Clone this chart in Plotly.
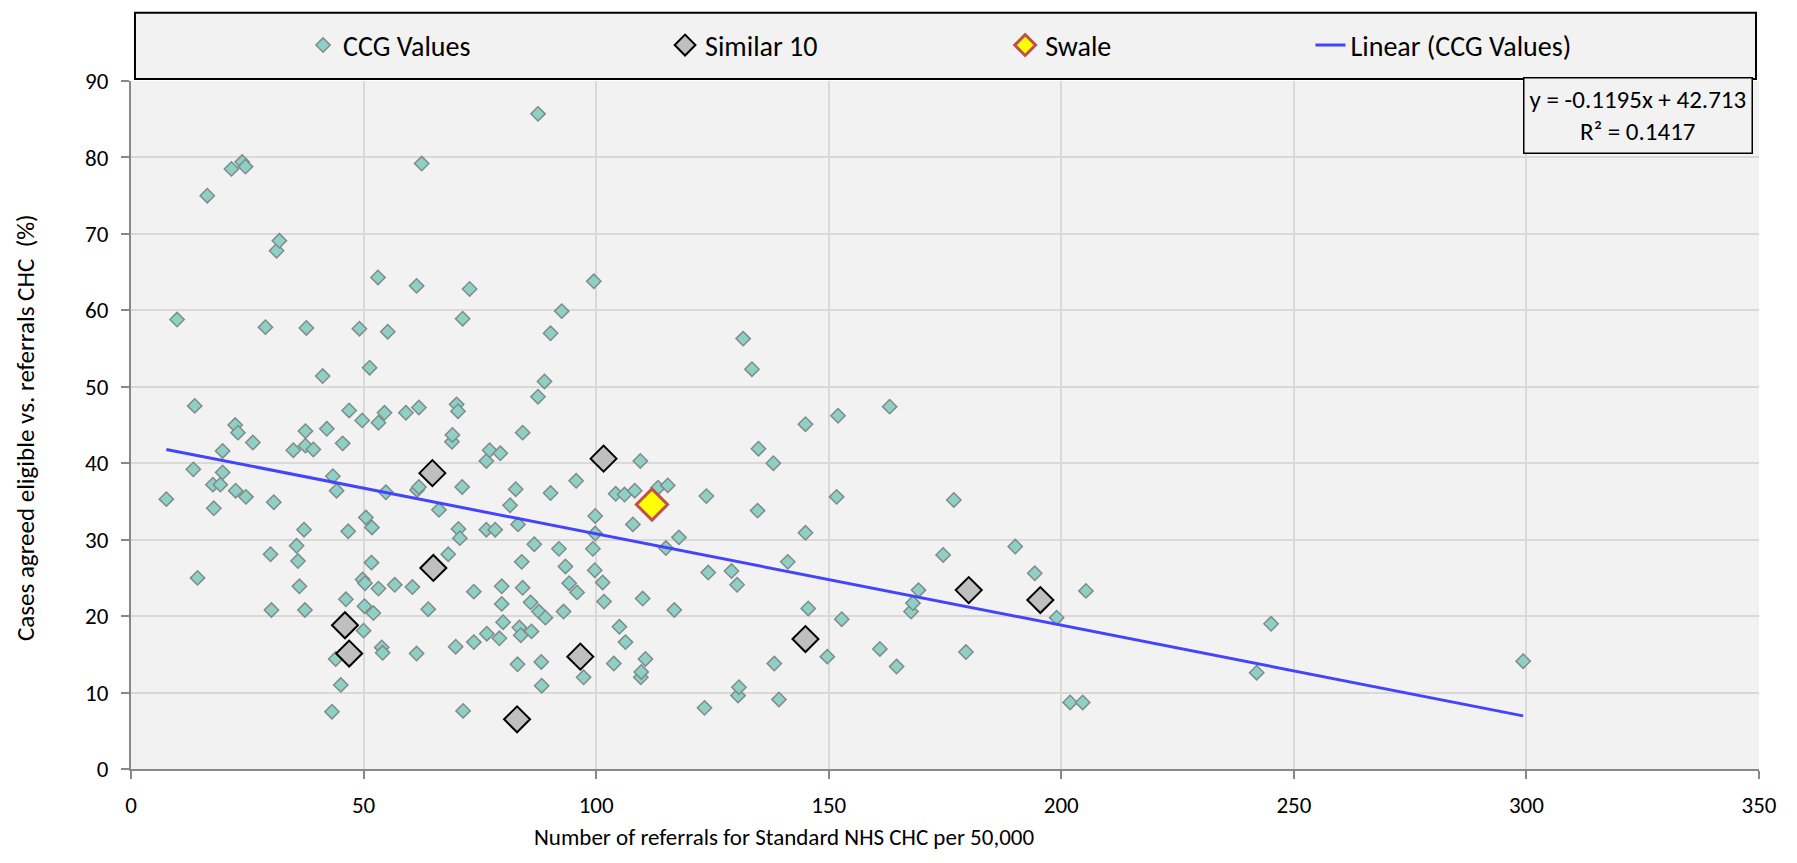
import plotly.graph_objects as go

# CCG values
ccg_x = [7.6, 9.9, 13.4, 13.7, 14.3, 16.4, 17.6, 17.8, 19.2, 19.7, 19.7, 21.6, 22.4, 22.5, 23.0,
         23.9, 24.6, 24.7, 26.2, 28.9, 30.0, 30.2, 30.7, 31.3, 31.9, 34.9, 35.6, 35.9, 36.2, 37.2,
         37.4, 37.5, 37.5, 37.7, 39.2, 41.2, 42.1, 43.2, 43.4, 44.0, 44.2, 45.1, 45.5, 46.2, 46.7,
         46.9, 49.1, 49.7, 49.8, 50.0, 50.2, 50.3, 50.5, 51.3, 51.7, 51.8, 52.1, 53.1, 53.2, 53.2,
         53.9, 54.1, 54.5, 54.8, 55.2, 56.7, 59.1, 60.5, 61.4, 61.4, 61.5, 61.9, 61.9, 62.5, 63.9,
         66.2, 68.2, 69.0, 69.1, 69.8, 70.0, 70.3, 70.4, 70.7, 71.2, 71.3, 71.4, 72.8, 73.7, 73.7,
         76.4, 76.4, 76.5, 77.1, 78.3, 79.2, 79.4, 79.7, 79.7, 80.0, 81.5, 82.7, 83.1, 83.2, 83.5,
         83.8, 84.0, 84.2, 84.2, 85.9, 86.1, 86.7, 87.5, 87.5, 87.7, 88.2, 88.3, 88.9, 89.1, 90.2,
         90.2, 92.0, 92.6, 93.0, 93.4, 94.2, 95.7, 95.9, 97.3, 99.3, 99.5, 99.7, 99.8, 99.8, 101.4,
         101.7, 103.8, 104.2, 105.0, 106.1, 106.3, 107.9, 108.3, 109.5, 109.6, 109.7, 110.0, 110.6,
         113.3, 115.0, 115.4, 116.8, 117.8, 123.3, 123.7, 124.1, 129.1, 130.3, 130.5, 130.7, 131.6,
         133.5, 134.7, 134.9, 138.1, 138.3, 139.3, 141.2, 145.0, 145.0, 145.6, 149.7, 151.7, 152.0,
         152.8, 161.0, 163.1, 164.6, 167.7, 168.1, 169.3, 174.6, 176.9, 179.5, 190.1, 194.3, 199.0,
         201.9, 204.6, 205.3, 242.0, 245.1, 299.3]
ccg_y = [35.3, 58.8, 39.2, 47.5, 25.0, 75.0, 37.2, 34.1, 37.2, 41.6, 38.8, 78.5, 45.0, 36.4, 44.0,
         79.4, 78.8, 35.6, 42.7, 57.8, 28.1, 20.8, 34.9, 67.8, 69.1, 41.7, 29.2, 27.2, 23.9, 31.3,
         20.8, 44.2, 42.3, 57.7, 41.8, 51.4, 44.5, 7.5, 38.3, 14.4, 36.4, 11.0, 42.6, 22.2, 31.1,
         46.9, 57.6, 45.6, 24.8, 18.1, 21.3, 24.3, 32.9, 52.5, 27.0, 31.6, 20.4, 64.3, 45.3, 23.6,
         15.9, 15.2, 46.6, 36.2, 57.2, 24.1, 46.6, 23.8, 63.2, 15.1, 36.5, 36.9, 47.3, 79.2, 20.9,
         33.9, 28.1, 42.8, 43.7, 16.0, 47.7, 46.8, 31.4, 30.2, 36.9, 58.9, 7.6, 62.8, 23.2, 16.6,
         40.3, 31.3, 17.7, 41.7, 31.3, 17.1, 41.3, 23.9, 21.6, 19.2, 34.5, 36.6, 13.7, 32.0, 18.5,
         17.5, 27.1, 23.7, 44.0, 21.8, 18.0, 29.4, 48.7, 85.7, 20.6, 14.0, 10.9, 50.7, 19.8, 57.0,
         36.1, 28.8, 59.9, 20.6, 26.5, 24.3, 37.7, 23.1, 12.0, 28.8, 63.8, 26.0, 33.1, 30.8, 24.4,
         21.9, 13.8, 36.0, 18.6, 35.9, 16.6, 32.0, 36.4, 40.3, 12.0, 12.7, 22.3, 14.4,
         36.8, 28.9, 37.1, 20.8, 30.3, 8.0, 35.7, 25.7, 25.9, 24.1, 9.6, 10.7, 56.3,
         52.3, 33.8, 41.9, 40.0, 13.8, 9.1, 27.1, 45.1, 30.9, 21.0, 14.7, 35.6, 46.2,
         19.6, 15.7, 47.4, 13.4, 20.6, 21.7, 23.4, 28.0, 35.2, 15.3, 29.1, 25.6, 19.8,
         8.7, 8.7, 23.3, 12.6, 19.0, 14.1]

similar_x = [46.0, 46.9, 64.8, 65.0, 83.0, 96.6, 101.6, 145.0, 180.1, 195.5]
similar_y = [18.8, 15.1, 38.7, 26.3, 6.5, 14.7, 40.6, 17.0, 23.4, 22.1]

swale_x = [112.0]
swale_y = [34.6]

# trendline as printed on the chart
trend_slope = -0.1195
trend_intercept = 42.713
trend_r2 = 0.1417

FONT = "Carlito, Lato, sans-serif"

# the page body has an 8px margin, so figure pixels = screen pixels - 8
OFF = 8
W, H = 1797 - 2 * OFF, 863 - 2 * OFF
L, R, T, B = 131 - OFF, 1768 - OFF, 74 - OFF, 769 - OFF

def px(xs):
    # screen x pixel -> paper coordinate
    return (xs - OFF - L) / (R - L)

def py(ys):
    # screen y pixel -> paper coordinate
    return (B - (ys - OFF)) / (B - T)

trend_x = [min(ccg_x), max(ccg_x)]
trend_y = [trend_slope * v + trend_intercept for v in trend_x]

fig = go.Figure()
fig.add_trace(go.Scatter(
    x=ccg_x, y=ccg_y, mode="markers", name="CCG Values", legend="legend", showlegend=True,
    marker=dict(symbol="diamond", size=11, color="#8fd0c6",
                line=dict(color="#7f8c8a", width=1.5))))
fig.add_trace(go.Scatter(
    x=similar_x, y=similar_y, mode="markers", name="Similar 10", legend="legend2",
    marker=dict(symbol="diamond", size=20, color="#bfbfbf",
                line=dict(color="black", width=2))))
fig.add_trace(go.Scatter(
    x=swale_x, y=swale_y, mode="markers", name="Swale", legend="legend3",
    marker=dict(symbol="diamond", size=24, color="#ffff00",
                line=dict(color="#c0504d", width=3))))
fig.add_trace(go.Scatter(
    x=trend_x, y=trend_y, mode="lines", name="Linear (CCG Values)", legend="legend4",
    line=dict(color="#4444ff", width=3)))

leg = dict(y=py(38), yanchor="middle", xanchor="left", bgcolor="rgba(0,0,0,0)",
           font=dict(family=FONT, size=28, color="black"), orientation="h")

fig.update_layout(
    width=W, height=H,
    margin=dict(l=L, r=W - R, t=T, b=H - B),
    showlegend=True,
    paper_bgcolor="white", plot_bgcolor="#f2f2f2",
    font=dict(family=FONT, size=23, color="black"),
    legend=dict(leg, x=px(304)),
    legend2=dict(leg, x=px(668)),
    legend3=dict(leg, x=px(1010)),
    legend4=dict(leg, x=px(1317)),
    xaxis=dict(range=[0, 350], dtick=50, showgrid=True, gridcolor="#d9d9d9", gridwidth=1.5,
               showline=True, linecolor="#888888", linewidth=2, ticks="outside",
               ticklen=8, tickcolor="#888888", tickwidth=2, zeroline=False,
               ticklabelstandoff=6, tickfont=dict(size=23)),
    yaxis=dict(range=[0, 90], dtick=10, showgrid=True, gridcolor="#d9d9d9", gridwidth=1.5,
               showline=True, linecolor="#888888", linewidth=2, ticks="outside",
               ticklen=8, tickcolor="#888888", tickwidth=2, zeroline=False,
               ticklabelstandoff=8, tickfont=dict(size=23)),
    shapes=[dict(type="rect", xref="paper", yref="paper",
                 x0=px(135), x1=px(1765), y0=py(72), y1=py(5),
                 fillcolor="#f2f2f2", line=dict(color="black", width=2), layer="below")],
    annotations=[
        dict(xref="paper", yref="paper", x=px(1762), y=py(70), xanchor="right", yanchor="top",
             text=f"y = {trend_slope}x + {trend_intercept}<br>R² = {trend_r2}",
             showarrow=False, align="center", font=dict(size=25),
             bgcolor="#f2f2f2", bordercolor="black", borderwidth=1.5, borderpad=5),
        dict(xref="paper", yref="paper", x=px(788), y=py(838), xanchor="center", yanchor="middle",
             text="Number of referrals for Standard NHS CHC per 50,000",
             showarrow=False, font=dict(size=23)),
        dict(xref="paper", yref="paper", x=px(25), y=py(424), xanchor="center", yanchor="middle",
             text="Cases agreed eligible vs. referrals CHC \u00a0(%)", textangle=-90,
             showarrow=False, font=dict(size=25)),
    ],
)

fig.write_html("out.html")
